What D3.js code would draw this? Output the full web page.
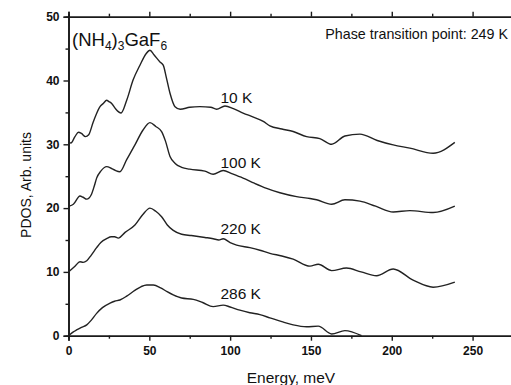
<!DOCTYPE html>
<html>
<head>
<meta charset="utf-8">
<script src="https://cdn.jsdelivr.net/npm/d3@7"></script>
<style>
  body { margin: 0; background: #fff; }
  svg text { font-family: "Liberation Sans", Arial, sans-serif; fill: #111; }
</style>
</head>
<body>
<div id="chart"></div>
<script>
// energy (meV), PDOS (arb. units, offset)
const curve10K = [
	[0.5, 30.3], [1.5, 30.2], [4, 31.2], [6.2, 31.9], [8, 31.7], [10.5, 31.2], [12.5, 31.5],
	[15.3, 33.5], [17, 34.6], [19.5, 35.9], [21.5, 36.4], [23.6, 36.9], [25, 36.7],
	[26.7, 36.4], [29, 35.6], [32.5, 34.9], [36, 36.9], [40, 40.1], [44.2, 42.4],
	[48, 44.2], [50.4, 44.75], [53, 44.0], [56.6, 42.9], [58.6, 42.4], [60.5, 40.5],
	[62.8, 38.0], [65.9, 35.9], [69.1, 35.5], [75, 35.8], [81.3, 35.9], [88, 35.8],
	[91.6, 35.5], [96.8, 36.0], [102, 35.6], [108, 34.9], [114, 34.3], [120.5, 33.6],
	[124.6, 32.9], [132, 32.4], [139, 32.0], [147.3, 31.2], [155.5, 30.9], [162.8, 30.0],
	[171, 31.3], [180.3, 31.6], [191, 30.6], [200.9, 29.9], [211.2, 29.4], [225.6, 28.6],
	[239, 30.3]
];
const curve100K = [
	[0.5, 20.3], [3, 20.6], [7.1, 21.9], [9, 21.7], [11.3, 21.4], [14, 22.05], [16, 23.5],
	[17.4, 24.7], [20, 25.8], [23.6, 26.5], [26.7, 26.2], [29, 25.9], [31.8, 25.7],
	[36, 27.6], [41.1, 29.9], [46, 32.2], [50.4, 33.4], [54, 32.8], [57.6, 32.0],
	[60, 30.5], [62.8, 28.1], [66, 27.0], [70, 26.4], [75, 26.1], [84.4, 25.8],
	[89.5, 25.3], [95.7, 25.9], [101, 25.4], [108, 24.7], [115, 23.9], [122.6, 23.1],
	[130.8, 22.4], [141.1, 21.8], [149.4, 21.5], [153.5, 21.3], [162.8, 20.6], [171, 21.3],
	[180.3, 21.1], [190, 20.3], [200.9, 19.4], [211.2, 19.6], [225.6, 19.3], [239, 20.3]
];
const curve220K = [
	[0.5, 10.1], [4, 10.9], [7.1, 11.6], [9, 11.5], [11.3, 11.75], [14, 12.6], [17.4, 13.8],
	[20, 14.6], [23.6, 15.2], [26.5, 15.5], [28.5, 15.5], [30.8, 15.3], [35, 16.2],
	[41.1, 17.35], [46, 19.0], [50.4, 20.0], [54, 19.5], [57.6, 18.65], [61, 17.4],
	[64.8, 16.5], [70, 15.9], [76, 15.7], [84.4, 15.4], [89.5, 15.2], [93, 15.0],
	[95.7, 15.2], [100, 14.6], [104, 14.2], [112.2, 13.8], [118.4, 13.4], [124.6, 12.9],
	[132, 12.5], [139, 12.0], [149.4, 10.9], [154.5, 11.2], [162.8, 10.2], [172, 10.6],
	[181, 10.0], [190.6, 9.4], [200.9, 10.45], [213.2, 8.7], [225.6, 7.6], [239, 8.4]
];
const curve286K = [
	[0.5, 0.1], [3, 0.6], [5, 0.9], [8, 1.3], [11.3, 1.7], [14, 2.4], [17.4, 3.5], [21, 4.4],
	[25.7, 5.1], [28.5, 5.4], [31.8, 5.6], [36, 6.2], [41, 7.1], [45, 7.7], [48.4, 7.95],
	[52.5, 7.95], [57, 7.5], [61, 6.9], [64.8, 6.4], [70, 5.9], [77.2, 5.7], [83, 5.2],
	[89.5, 4.55], [95.7, 4.8], [100, 4.5], [106, 4.0], [112.2, 3.6], [118.4, 3.3],
	[124.6, 2.8], [132, 2.2], [139, 1.7], [147.3, 1.4], [154.5, 1.5], [162.8, 0.27],
	[171, 0.8], [181.3, 0]
];

const curves = [curve10K, curve100K, curve220K, curve286K];
// label text and the point (energy, value) of its left baseline
const curveLabels = ["10 K", "100 K", "220 K", "286 K"];
const labelAnchors = [[94, 36.4], [94, 26.3], [94, 16.0], [94, 5.8]];

const xTicks = [0, 50, 100, 150, 200, 250];
const xMinor = [25, 75, 125, 175, 225, 275];
const yTicks = [0, 10, 20, 30, 40, 50];
const yMinor = [5, 15, 25, 35, 45];

const W = 511, H = 385;
const svg = d3.select("#chart").append("svg").attr("width", W).attr("height", H);

const x = d3.scaleLinear().domain([0, 275]).range([68.5, 513]);
const y = d3.scaleLinear().domain([0, 50]).range([335.7, 16.7]);

const ink = "#1a1a1a";

// axes
const gx = svg.append("g").attr("transform", `translate(0,${y(0)})`)
	.call(d3.axisBottom(x).tickValues(xTicks).tickSize(5).tickPadding(6).tickFormat(d3.format("d")));
gx.append("g").call(d3.axisBottom(x).tickValues(xMinor).tickSize(3).tickFormat(""));

const gt = svg.append("g").attr("transform", `translate(0,${y(50)})`)
	.call(d3.axisTop(x).tickValues(xTicks).tickSize(5).tickFormat(""));
gt.append("g").call(d3.axisTop(x).tickValues(xMinor).tickSize(3).tickFormat(""));

const gy = svg.append("g").attr("transform", `translate(${x(0)},0)`)
	.call(d3.axisLeft(y).tickValues(yTicks).tickSize(5).tickPadding(4).tickFormat(d3.format("d")));
gy.append("g").call(d3.axisLeft(y).tickValues(yMinor).tickSize(3).tickFormat(""));

svg.selectAll(".domain").attr("stroke", ink).attr("stroke-width", 1.6);
svg.selectAll(".tick line").attr("stroke", ink).attr("stroke-width", 1.4);
svg.selectAll(".tick text")
	.attr("font-family", "Liberation Sans, Arial, sans-serif")
	.attr("font-size", 12).attr("font-weight", "bold").attr("fill", "#111");

// curves
const line = d3.line()
	.x(([e]) => x(e))
	.y(([_, v]) => y(v))
	.curve(d3.curveMonotoneX);

svg.append("g").selectAll("path")
	.data(curves)
	.join("path")
	.attr("fill", "none")
	.attr("stroke", "#222")
	.attr("stroke-width", 1.4)
	.attr("stroke-linejoin", "round")
	.attr("d", line);

svg.append("g").selectAll("text")
	.data(curveLabels)
	.join("text")
	.attr("x", (d, i) => x(labelAnchors[i][0]))
	.attr("y", (d, i) => y(labelAnchors[i][1]))
	.attr("font-size", 15.5)
	.text(d => d);

// compound name with subscripts
const title = svg.append("text").attr("x", 72).attr("y", 46).attr("font-size", 18.5);
title.append("tspan").text("(NH");
title.append("tspan").attr("font-size", 12).attr("dy", 4).text("4");
title.append("tspan").attr("dy", -4).text(")");
title.append("tspan").attr("font-size", 12).attr("dy", 4).text("3");
title.append("tspan").attr("dy", -4).text("GaF");
title.append("tspan").attr("font-size", 12).attr("dy", 4).text("6");

svg.append("text")
	.attr("x", 508).attr("y", 39)
	.attr("text-anchor", "end")
	.attr("font-size", 14.3)
	.text("Phase transition point: 249 K");

svg.append("text")
	.attr("transform", "translate(31,185) rotate(-90)")
	.attr("text-anchor", "middle")
	.attr("font-size", 14)
	.text("PDOS, Arb. units");

svg.append("text")
	.attr("x", 291).attr("y", 383)
	.attr("text-anchor", "middle")
	.attr("font-size", 15.5)
	.text("Energy, meV");
</script>
</body>
</html>
